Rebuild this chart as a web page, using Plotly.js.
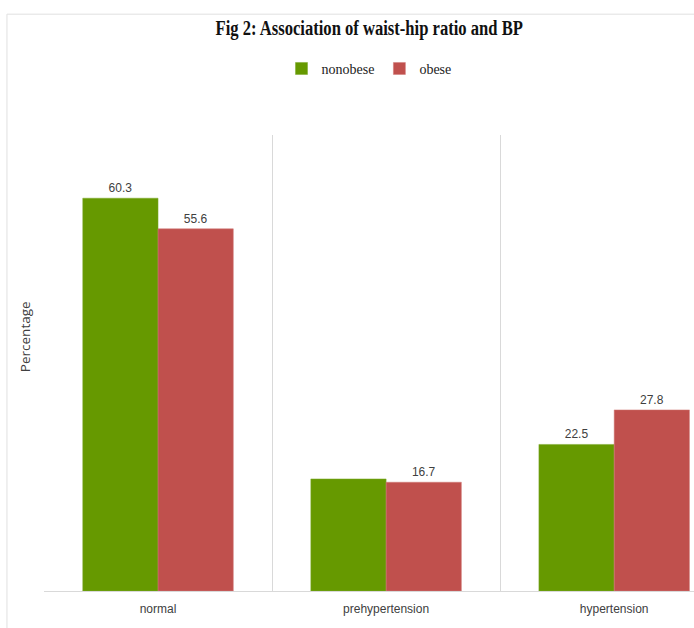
<!DOCTYPE html>
<html><head><meta charset="utf-8">
<script src="https://cdn.plot.ly/plotly-3.0.1.min.js"></script>
<style>html,body{margin:0;padding:0;background:#fff;}#chart{width:694px;height:628px;}</style>
</head><body><div id="chart"></div>
<script>
const categories = ["normal", "prehypertension", "hypertension"];
const nonobese = [60.3, 17.2, 22.5];
const obese = [55.6, 16.7, 27.8];
const nonobeseLabels = ["60.3", "", "22.5"];
const obeseLabels = ["55.6", "16.7", "27.8"];

const labelFont = {family: "Liberation Sans Narrow, Liberation Sans, Arial", size: 12, color: "#404040"};

const traces = [
  {type: "bar", name: "nonobese", x: categories, y: nonobese, text: nonobeseLabels,
   textposition: "outside", textfont: labelFont, cliponaxis: false,
   marker: {color: "#669900", line: {color: "#7aa82a", width: 0.5}}, hoverinfo: "none"},
  {type: "bar", name: "obese", x: categories, y: obese, text: obeseLabels,
   textposition: "outside", textfont: labelFont, cliponaxis: false,
   marker: {color: "#C0504D", line: {color: "#d07a78", width: 0.5}}, hoverinfo: "none"}
];

const layout = {
  width: 694, height: 628,
  margin: {l: 44, r: 0, t: 135, b: 37},
  paper_bgcolor: "#fff", plot_bgcolor: "#fff",
  barmode: "group", bargap: 0.34, bargroupgap: 0,
  title: {text: "<b>Fig 2: Association of waist-hip ratio and BP</b>",
          font: {family: "Liberation Serif, Times New Roman, serif", size: 20, color: "#111"},
          x: 0.532, xanchor: "center", y: 0.955, yanchor: "middle"},
  showlegend: true,
  legend: {orientation: "h", x: 0.5, xanchor: "center", y: 1.145, yanchor: "middle",
           font: {family: "Liberation Serif, Times New Roman, serif", size: 14, color: "#222"},
           itemwidth: 30, tracegroupgap: 0},
  xaxis: {range: [-0.5, 2.35], tickson: "boundaries", showgrid: true, gridcolor: "#d9d9d9", gridwidth: 1,
          showline: true, linecolor: "#d9d9d9", ticks: "", fixedrange: true, ticklabelstandoff: 7,
          tickfont: {family: "Liberation Sans Narrow, Liberation Sans, Arial", size: 12, color: "#404040"}},
  yaxis: {range: [0, 70], showgrid: false, zeroline: false, showticklabels: false, ticks: ""},
  annotations: [
    {text: "Percentage", xref: "paper", yref: "paper", x: -0.029, y: 0.557, textangle: -90,
     showarrow: false, xanchor: "center", yanchor: "middle",
     font: {family: "Open Sans, DejaVu Sans, sans-serif", size: 13.5, color: "#404040"}}
  ],
  shapes: [
    {type: "line", xref: "paper", yref: "paper", x0: -0.057, x1: 1.1, y0: 1.265, y1: 1.265,
     line: {color: "#e0e0e0", width: 1}},
    {type: "line", xref: "paper", yref: "paper", x0: -0.057, x1: -0.057, y0: 1.265, y1: -0.2,
     line: {color: "#e0e0e0", width: 1}}
  ]
};

Plotly.newPlot("chart", traces, layout, {displayModeBar: false, staticPlot: true}).then(function () {
  const t = document.querySelector("#chart .gtitle");
  if (t) {
    const bb = t.getBBox();
    const cx = bb.x + bb.width / 2;
    t.setAttribute("transform", "translate(" + cx + ",0) scale(0.83,1) translate(" + (-cx) + ",0)");
  }
});
</script></body></html>
